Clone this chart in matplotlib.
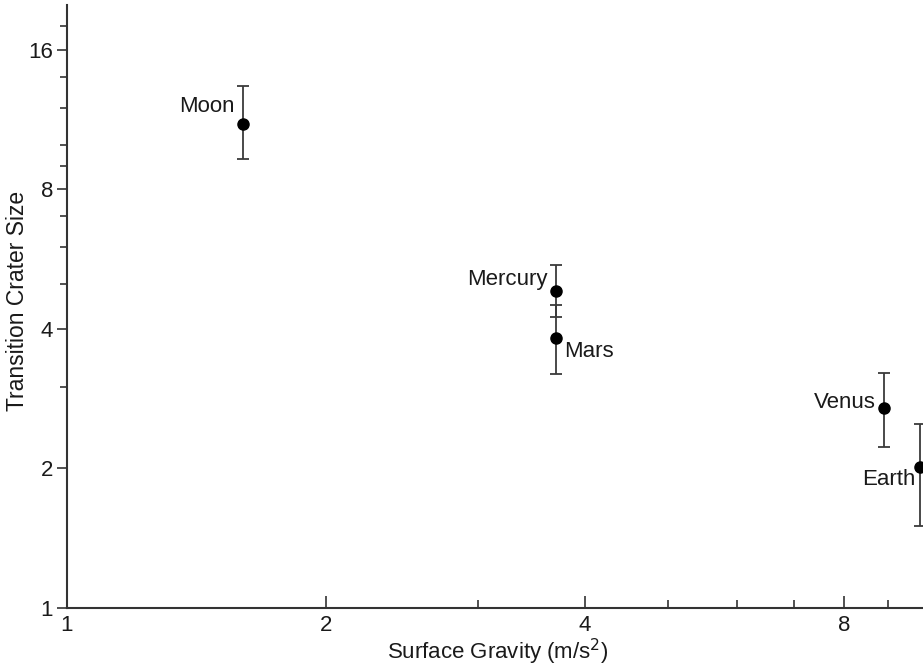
import matplotlib
matplotlib.use("Agg")
import matplotlib.pyplot as plt
from matplotlib.ticker import FixedLocator, NullFormatter

plt.rcParams['font.family'] = ['Liberation Sans', 'DejaVu Sans']

bodies = ["Moon", "Mercury", "Mars", "Venus", "Earth"]
gravity = [1.60, 3.70, 3.70, 8.9, 9.8]
crater_size = [11.1, 4.83, 3.83, 2.70, 2.01]
size_low = [9.3, 4.24, 3.20, 2.22, 1.50]
size_high = [13.4, 5.50, 4.51, 3.22, 2.50]

x_major = [1, 2, 4, 8]
x_minor = [3, 5, 6, 7, 9]
y_major = [1, 2, 4, 8, 16]
y_minor = [3, 5, 6, 7, 9, 10, 12, 14, 18]

label_offsets = {
    "Moon": (-6, 12, "right"),
    "Mercury": (-6, 8, "right"),
    "Mars": (6, -10, "left"),
    "Venus": (-6, 4, "right"),
    "Earth": (-3, -9, "right"),
}

fs = 16

fig = plt.figure(figsize=(9.23, 6.67), dpi=100)
ax = fig.add_axes([67/923, 59/667, 1 - 67/923, (608 - 5)/667])

axis_col = "#333333"
text_col = "#1a1a1a"

yerr = [[c - lo for c, lo in zip(crater_size, size_low)],
        [hi - c for c, hi in zip(crater_size, size_high)]]
ax.errorbar(gravity, crater_size, yerr=yerr, fmt="o", color="black",
            ecolor="#3a3a3a", elinewidth=1.3, capsize=4.3, capthick=1.3,
            markersize=8, clip_on=False, zorder=3)

for name, gx, cy in zip(bodies, gravity, crater_size):
    dx, dy, ha = label_offsets[name]
    ax.annotate(name, (gx, cy), xytext=(dx, dy), textcoords="offset points",
                ha=ha, va="center", fontsize=fs, color=text_col)

ax.set_xscale("log")
ax.set_yscale("log")
ax.set_xlim(1, 9.88)
ax.set_ylim(1, 20)

ax.xaxis.set_major_locator(FixedLocator(x_major))
ax.xaxis.set_minor_locator(FixedLocator(x_minor))
ax.yaxis.set_major_locator(FixedLocator(y_major))
ax.yaxis.set_minor_locator(FixedLocator(y_minor))
ax.set_xticklabels([str(v) for v in x_major])
ax.set_yticklabels([str(v) for v in y_major])
ax.xaxis.set_minor_formatter(NullFormatter())
ax.yaxis.set_minor_formatter(NullFormatter())

ax.tick_params(axis="x", which="major", direction="in", length=9, width=1.2,
               color=axis_col, labelsize=fs, labelcolor=text_col, pad=5)
ax.tick_params(axis="x", which="minor", direction="in", length=6, width=1.2,
               color=axis_col)
ax.tick_params(axis="y", which="major", direction="out", length=7, width=1.2,
               color=axis_col, labelsize=fs, labelcolor=text_col, pad=3)
ax.tick_params(axis="y", which="minor", direction="out", length=5, width=1.2,
               color=axis_col)

for s in ["top", "right"]:
    ax.spines[s].set_visible(False)
for s in ["left", "bottom"]:
    ax.spines[s].set_color(axis_col)
    ax.spines[s].set_linewidth(1.5)

ax.set_xlabel("Surface Gravity (m/s$^2$)", fontsize=16, color=text_col)
ax.set_ylabel("Transition Crater Size", fontsize=16.5, color=text_col)
ax.xaxis.set_label_coords(0.503, -0.048)
ax.yaxis.set_label_coords(-0.0445, 0.509)

fig.savefig("out.png", dpi=100)
